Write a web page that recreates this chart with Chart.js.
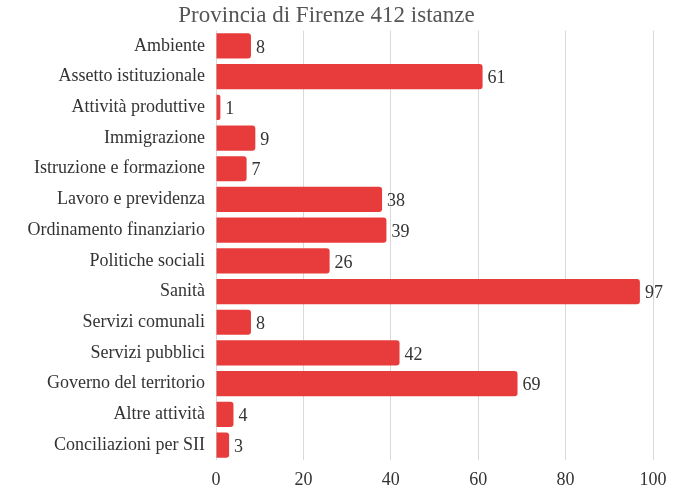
<!DOCTYPE html>
<html>
<head>
<meta charset="utf-8">
<script src="https://cdn.jsdelivr.net/npm/chart.js@4/dist/chart.umd.min.js"></script>
<style>
  html, body { margin: 0; padding: 0; background: #fff; }
  #wrap { width: 679px; height: 486px; }
</style>
</head>
<body>
<div id="wrap"><canvas id="chart" width="679" height="486"></canvas></div>
<script>
const categories = [
  'Ambiente', 'Assetto istituzionale', 'Attività produttive', 'Immigrazione',
  'Istruzione e formazione', 'Lavoro e previdenza', 'Ordinamento finanziario',
  'Politiche sociali', 'Sanità', 'Servizi comunali', 'Servizi pubblici',
  'Governo del territorio', 'Altre attività', 'Conciliazioni per SII'
];
const istanze = [8, 61, 1, 9, 7, 38, 39, 26, 97, 8, 42, 69, 4, 3];
const xTicks = [0, 20, 40, 60, 80, 100];

const FONT = "'Liberation Serif', 'DejaVu Serif', serif";

// values written at the end of each bar
const valueLabels = {
  id: 'valueLabels',
  afterDatasetsDraw(chart) {
    const ctx = chart.ctx;
    const meta = chart.getDatasetMeta(0);
    ctx.save();
    ctx.font = '18px ' + FONT;
    ctx.fillStyle = '#333';
    ctx.textAlign = 'left';
    ctx.textBaseline = 'middle';
    meta.data.forEach((bar, i) => {
      ctx.fillText(String(istanze[i]), bar.x + 5, bar.y + 2);
    });
    ctx.restore();
  }
};

new Chart(document.getElementById('chart'), {
  type: 'bar',
  data: {
    labels: categories,
    datasets: [{
      data: istanze,
      backgroundColor: '#e83c3c',
      borderRadius: { topRight: 3, bottomRight: 3, topLeft: 0, bottomLeft: 0 },
      borderSkipped: false,
      categoryPercentage: 0.82,
      barPercentage: 1
    }]
  },
  options: {
    indexAxis: 'y',
    responsive: false,
    animation: false,
    layout: { padding: { left: 0, right: 26, top: 0, bottom: -14 } },
    plugins: {
      legend: { display: false },
      tooltip: { enabled: false },
      title: {
        display: true,
        text: 'Provincia di Firenze 412 istanze',
        color: '#555',
        font: { family: FONT, size: 23, weight: 'normal' },
        padding: { top: 2, bottom: 1 }
      }
    },
    scales: {
      x: {
        min: 0,
        max: 100,
        afterBuildTicks(axis) { axis.ticks = xTicks.map(v => ({ value: v })); },
        grid: { color: '#d9d9d9', drawTicks: false },
        border: { display: false },
        ticks: { color: '#333', padding: 9, font: { family: FONT, size: 18 } }
      },
      y: {
        afterFit(axis) { axis.width = 216; },
        grid: { display: false, drawTicks: false },
        border: { display: false },
        ticks: { color: '#333', padding: 11, font: { family: FONT, size: 18 } }
      }
    }
  },
  plugins: [valueLabels]
});
</script>
</body>
</html>
